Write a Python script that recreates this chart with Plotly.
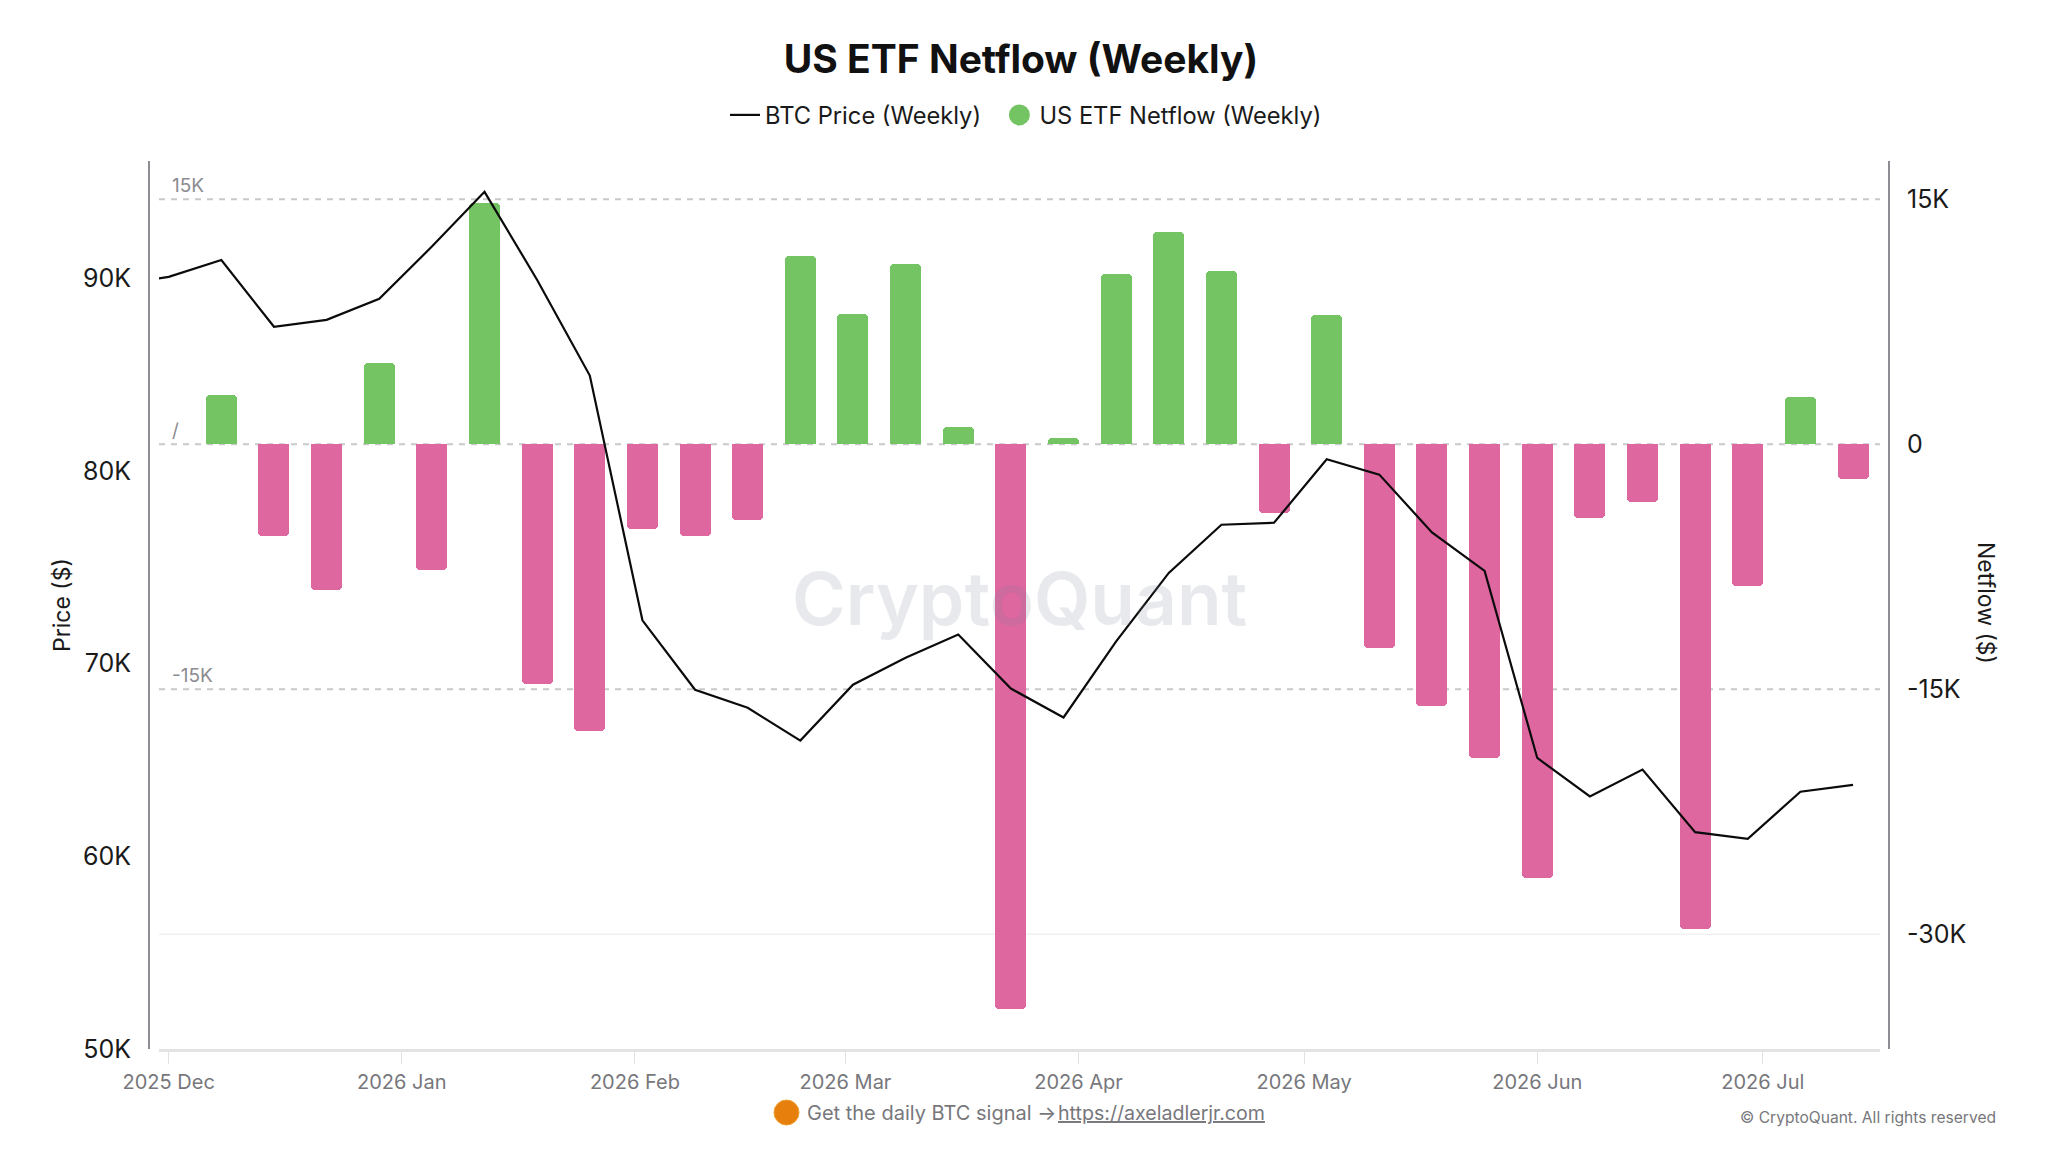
import plotly.graph_objects as go

WIDTH, HEIGHT = 2048, 1152

# Weekly price series, starting just left of the visible window
price_dates = ["2025-11-24", "2025-12-01", "2025-12-08", "2025-12-15", "2025-12-22", "2025-12-29",
               "2026-01-05", "2026-01-12", "2026-01-19", "2026-01-26", "2026-02-02", "2026-02-09",
               "2026-02-16", "2026-02-23", "2026-03-02", "2026-03-09", "2026-03-16", "2026-03-23",
               "2026-03-30", "2026-04-06", "2026-04-13", "2026-04-20", "2026-04-27", "2026-05-04",
               "2026-05-11", "2026-05-18", "2026-05-25", "2026-06-01", "2026-06-08", "2026-06-15",
               "2026-06-22", "2026-06-29", "2026-07-06", "2026-07-13"]
btc_price = [89650, 90060, 90930, 87470, 87830, 88920, 91630, 94470, 89900, 84940, 72240, 68640,
             67700, 66000, 68900, 70300, 71500, 68700, 67200, 71150, 74700, 77200, 77300, 80600,
             79800, 76800, 74800, 65100, 63100, 64500, 61250, 60900, 63350, 63700]

# Weekly netflow starts one week after the first visible price point
flow_dates = price_dates[2:]
etf_netflow = [3000, -5600, -8900, 5000, -7700, 14800, -14700, -17580, -5200, -5600, -4650, 11500,
               8000, 11050, 1050, -34600, 400, 10400, 13000, 10600, -4200, 7900, -12500, -16050,
               -19180, -26530, -4500, -3550, -29700, -8700, 2900, -2100]

price_ticks = [50000, 60000, 70000, 80000, 90000]
price_tick_labels = ["50K", "60K", "70K", "80K", "90K"]
flow_ticks = [-30000, -15000, 0, 15000]
flow_tick_labels = ["-30K", "-15K", "0", "15K"]
dashed_levels = [15000, 0, -15000]
inline_labels = ["15K", "/", "-15K"]

FONT = "Inter"
GREEN = "#75C463"
PINK = "#DF67A0"
MUTED = "#77777c"
INK = "#1a1a1a"


def px(x):
    return x / WIDTH


def py(y):
    return 1 - y / HEIGHT


fig = go.Figure()

fig.add_trace(go.Bar(
    x=flow_dates, y=etf_netflow, yaxis="y", width=31 / 7.519 * 86400000,
    marker=dict(color=[GREEN if v >= 0 else PINK for v in etf_netflow], line_width=0, cornerradius=4),
    showlegend=False, name="US ETF Netflow (Weekly)",
))
# Trailing no-break spaces open up the gap before the next legend entry
fig.add_trace(go.Scatter(
    x=price_dates, y=btc_price, yaxis="y2", mode="lines", name="BTC Price (Weekly)\u00a0\u00a0",
    line=dict(color="#0b0b0b", width=2.2),
))
# Legend entry for the bars, shown as a round swatch
fig.add_trace(go.Scatter(
    x=[None], y=[None], yaxis="y2", mode="markers", name="US ETF Netflow (Weekly)",
    marker=dict(color=GREEN, size=16, symbol="circle", line=dict(color=GREEN, width=5)),
))

shapes = [dict(type="line", xref="x domain", yref="y", x0=0, x1=1, y0=v, y1=v, layer="below",
               line=dict(color="#c9c9cd", width=2, dash="6px,6px")) for v in dashed_levels]
shapes.append(dict(type="line", xref="x domain", yref="y", x0=0, x1=1, y0=flow_ticks[0], y1=flow_ticks[0],
                   layer="below", line=dict(color="#f1f1f3", width=1.5)))
# Orange bullet in front of the footer text
shapes.append(dict(type="circle", xref="paper", yref="paper", layer="above",
                   x0=px(774), x1=px(799), y0=py(1125), y1=py(1100),
                   fillcolor="#E67F0C", line=dict(color="#F0A030", width=1)))

annotations = [dict(x=px(170), y=v, xref="paper", yref="y", text=t, showarrow=False, xanchor="left",
                    yanchor="bottom", font=dict(family=FONT, size=19, color="#8b8b90"))
               for v, t in zip(dashed_levels, inline_labels)]
annotations += [
    dict(x=px(62), y=py(605), xref="paper", yref="paper", text="Price ($)", showarrow=False, textangle=-90,
         xanchor="center", yanchor="middle", font=dict(family=FONT, size=23, color=INK)),
    dict(x=px(1986), y=py(603), xref="paper", yref="paper", text="Netflow ($)", showarrow=False, textangle=90,
         xanchor="center", yanchor="middle", font=dict(family=FONT, size=23, color=INK)),
    dict(x=px(1019), y=py(598), xref="paper", yref="paper", text="CryptoQuant", showarrow=False,
         xanchor="center", yanchor="middle",
         font=dict(family=FONT, size=73, weight=600, color="rgba(120,125,150,0.17)")),
    dict(x=px(805), y=py(1113), xref="paper", yref="paper", text="Get the daily BTC signal →", showarrow=False,
         xanchor="left", yanchor="middle", font=dict(family=FONT, size=20, color=MUTED)),
    dict(x=px(1056), y=py(1113), xref="paper", yref="paper", text="https://axeladlerjr.com", showarrow=False,
         xanchor="left", yanchor="middle", font=dict(family=FONT, size=19.6, color=MUTED, lineposition="under")),
    dict(x=px(1998), y=py(1117), xref="paper", yref="paper", text="© CryptoQuant. All rights reserved",
         showarrow=False, xanchor="right", yanchor="middle", font=dict(family=FONT, size=15.6, color=MUTED)),
]

fig.update_layout(
    width=WIDTH, height=HEIGHT, autosize=False,
    margin=dict(l=0, r=0, t=0, b=0, autoexpand=False),
    paper_bgcolor="white", plot_bgcolor="white",
    font=dict(family=FONT, color="#111111"),
    title=dict(text="<b>US ETF Netflow (Weekly)</b>", x=px(1021), y=py(59), xanchor="center", yanchor="middle",
               xref="paper", yref="paper", font=dict(family=FONT, size=39, color="#111111")),
    legend=dict(orientation="h", x=px(725), y=py(115), xanchor="left", yanchor="middle",
                font=dict(family=FONT, size=23.7, color=INK), bgcolor="rgba(0,0,0,0)"),
    bargap=0,
    xaxis=dict(
        type="date", domain=[px(159), px(1880)], range=["2025-11-29 17:00", "2026-07-16 14:00"],
        tick0="2025-12-01", dtick="M1", tickformat="%Y %b", ticks="outside", ticklen=12, tickwidth=1,
        tickcolor="#e3e3e6", showline=True, linecolor="#e3e3e6", linewidth=3, showgrid=False,
        tickfont=dict(family=FONT, size=20, color=MUTED), anchor="y", ticklabelstandoff=1, automargin=False,
    ),
    yaxis=dict(
        domain=[py(1049), py(161)], range=[-37023, 17345], side="right", anchor="free", position=px(1889),
        tickvals=flow_ticks, ticktext=flow_tick_labels, showgrid=False, zeroline=False, automargin=False,
        showline=True, linecolor="#8c8c92", linewidth=2, ticks="", ticklabelstandoff=12,
        tickfont=dict(family=FONT, size=25, color=INK),
    ),
    yaxis2=dict(
        overlaying="y", range=[50000, 96070], side="left", anchor="free", position=px(149), automargin=False,
        tickvals=price_ticks, ticktext=price_tick_labels, showgrid=False, zeroline=False,
        showline=True, linecolor="#8c8c92", linewidth=2, ticks="", ticklabelstandoff=12,
        tickfont=dict(family=FONT, size=25, color=INK),
    ),
    shapes=shapes, annotations=annotations,
)

fig.write_html("out.html", config=dict(displayModeBar=False))
